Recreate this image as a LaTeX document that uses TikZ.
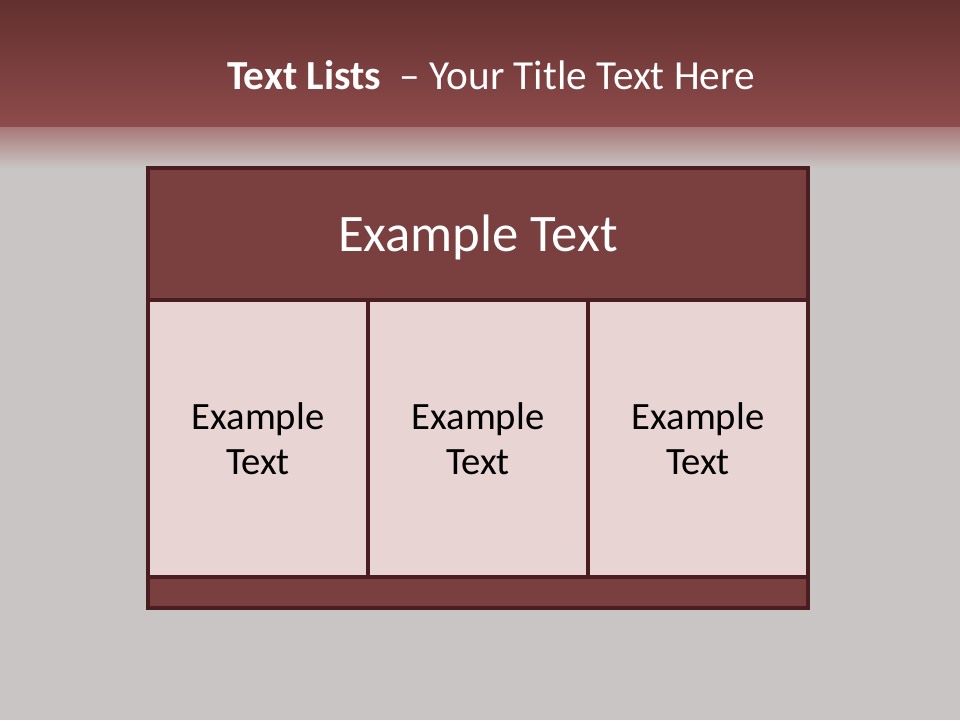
\documentclass[tikz,border=0pt]{standalone}
\usepackage{fontspec}
\setmainfont{Carlito}
\usetikzlibrary{positioning}
\definecolor{slideRed}{HTML}{7A3F3F}
\definecolor{slideDark}{HTML}{4A1E20}
\definecolor{slidePink}{HTML}{E8D4D3}
\definecolor{slideGray}{HTML}{C9C5C4}
\definecolor{bandTop}{HTML}{62302F}
\definecolor{bandLow}{HTML}{8E4B4B}
\definecolor{bandFade}{HTML}{A87878}

\begin{document}
\begin{tikzpicture}[x=0.02cm, y=-0.02cm,
    head/.style={rectangle, draw=slideDark, line width=2pt, fill=slideRed,
                 minimum width=13.2cm, minimum height=2.64cm,
                 font=\fontsize{30}{35}\selectfont\color{white}, align=center},
    cellbox/.style={rectangle, draw=slideDark, line width=2pt, fill=slidePink,
                 minimum width=4.4cm, minimum height=5.54cm,
                 font=\fontsize{22}{25.5}\selectfont\color{black}, align=center},
    foot/.style={rectangle, draw=slideDark, line width=2pt, fill=slideRed,
                 minimum width=13.2cm, minimum height=0.62cm},
  ]
    % background
    \fill[slideGray] (0,0) rectangle (960,720);
    \shade[top color=bandTop, bottom color=bandLow] (0,0) rectangle (960,127);
    \shade[top color=bandFade, bottom color=slideGray] (0,127) rectangle (960,168);
    \useasboundingbox (0,0) rectangle (960,720);

    \node[font=\fontsize{23.5}{28}\selectfont\color{white}] (title) at (491,75)
      {\textbf{Text Lists}\ \ -- Your Title Text Here};

    \node[head] (hdr) at (478,234) {};
    \node[font=\fontsize{30}{35}\selectfont\color{white}] (hdrtext) at (478,237) {Example Text};
    \node[cellbox] (c1) at (258,438.5) {Example\\Text};
    \node[cellbox] (c2) at (478,438.5) {Example\\Text};
    \node[cellbox] (c3) at (698,438.5) {Example\\Text};
    \node[foot] (bar) at (478,592.5) {};
  \end{tikzpicture}
\end{document}
